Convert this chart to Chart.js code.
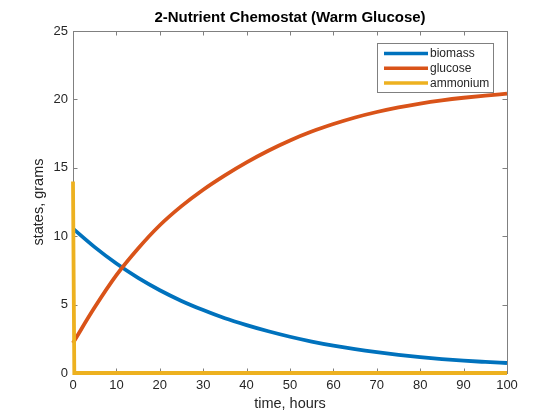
<!DOCTYPE html>
<html>
<head>
<meta charset="utf-8">
<script src="https://cdn.jsdelivr.net/npm/chart.js@4.4.1/dist/chart.umd.min.js"></script>
<style>
  html, body { margin: 0; padding: 0; background: #ffffff; }
  #wrap { width: 560px; height: 420px; position: relative; }
</style>
</head>
<body>
<div id="wrap"><canvas id="chart" width="560" height="420"></canvas></div>
<script>
const timeHours = [0, 5, 10, 15, 20, 25, 30, 35, 40, 45, 50, 55, 60, 65, 70, 75, 80, 85, 90, 95, 100];
const biomass = [10.55, 9.2, 8.0, 6.95, 6.05, 5.27, 4.6, 4.0, 3.5, 3.05, 2.65, 2.3, 2.0, 1.74, 1.52, 1.33, 1.16, 1.02, 0.9, 0.81, 0.73];
const glucose = [2.2, 4.8, 7.15, 9.1, 10.8, 12.2, 13.4, 14.45, 15.4, 16.25, 17.0, 17.65, 18.2, 18.68, 19.08, 19.42, 19.7, 19.93, 20.12, 20.28, 20.42];
const ammoniumTime = [0, 0.3, 100];
const ammonium = [14, 0, 0];

const xTicks = [0, 10, 20, 30, 40, 50, 60, 70, 80, 90, 100];
const yTicks = [0, 5, 10, 15, 20, 25];

const seriesNames = ["biomass", "glucose", "ammonium"];
const seriesColors = ["#0072BD", "#D95319", "#EDB120"];

const fontFamily = "'Liberation Sans', Arial, Helvetica, sans-serif";
const axisColor = "#808080";
const textColor = "#262626";

function toPoints(xs, ys) {
  return xs.map((x, i) => ({ x, y: ys[i] }));
}

// box around the axes with inward ticks on all four sides, like matlab
const boxPlugin = {
  id: "matlabBox",
  beforeDatasetsDraw(chart) {
    const { ctx, chartArea: a, scales } = chart;
    const len = 4.5;
    ctx.save();
    ctx.strokeStyle = axisColor;
    ctx.lineWidth = 1;
    ctx.strokeRect(a.left + 0.5, a.top + 0.5, a.right - a.left, a.bottom - a.top);
    ctx.beginPath();
    xTicks.forEach((v) => {
      const px = Math.round(scales.x.getPixelForValue(v)) + 0.5;
      ctx.moveTo(px, a.bottom);
      ctx.lineTo(px, a.bottom - len);
      ctx.moveTo(px, a.top);
      ctx.lineTo(px, a.top + len);
    });
    yTicks.forEach((v) => {
      const py = Math.round(scales.y.getPixelForValue(v)) + 0.5;
      ctx.moveTo(a.left, py);
      ctx.lineTo(a.left + len, py);
      ctx.moveTo(a.right, py);
      ctx.lineTo(a.right - len, py);
    });
    ctx.stroke();
    ctx.restore();
  },
  afterDraw(chart) {
    const { ctx } = chart;
    ctx.save();
    // title
    ctx.fillStyle = "#000000";
    ctx.font = `bold 15px ${fontFamily}`;
    ctx.textAlign = "center";
    ctx.textBaseline = "middle";
    ctx.fillText("2-Nutrient Chemostat (Warm Glucose)", (chart.chartArea.left + chart.chartArea.right) / 2, 17.5);

    // legend
    const lx = 377.5, ly = 43.5, lw = 116, lh = 49;
    ctx.fillStyle = "#ffffff";
    ctx.fillRect(lx, ly, lw, lh);
    ctx.strokeStyle = axisColor;
    ctx.lineWidth = 1;
    ctx.strokeRect(lx, ly, lw, lh);
    ctx.font = `12px ${fontFamily}`;
    ctx.textAlign = "left";
    seriesNames.forEach((name, i) => {
      const y = 53.5 + i * 14.7;
      ctx.strokeStyle = seriesColors[i];
      ctx.lineWidth = 3.5;
      ctx.beginPath();
      ctx.moveTo(384, y);
      ctx.lineTo(428, y);
      ctx.stroke();
      ctx.fillStyle = textColor;
      ctx.fillText(name, 430, y + 0.5);
    });
    ctx.restore();
  },
};

const lineDefaults = {
  borderWidth: 3.8,
  pointRadius: 0,
  fill: false,
  clip: 6,
};

new Chart(document.getElementById("chart"), {
  type: "line",
  data: {
    datasets: [
      {
        ...lineDefaults,
        label: seriesNames[0],
        data: toPoints(timeHours, biomass),
        borderColor: seriesColors[0],
        cubicInterpolationMode: "monotone",
        order: 3,
      },
      {
        ...lineDefaults,
        label: seriesNames[1],
        data: toPoints(timeHours, glucose),
        borderColor: seriesColors[1],
        cubicInterpolationMode: "monotone",
        order: 2,
      },
      {
        ...lineDefaults,
        label: seriesNames[2],
        data: toPoints(ammoniumTime, ammonium),
        borderColor: seriesColors[2],
        order: 1,
      },
    ],
  },
  options: {
    responsive: false,
    animation: false,
    devicePixelRatio: 1,
    layout: { padding: { left: 0, top: 31, right: 53, bottom: 0 } },
    plugins: {
      legend: { display: false },
      tooltip: { enabled: false },
    },
    scales: {
      x: {
        type: "linear",
        min: 0,
        max: 100,
        afterBuildTicks: (scale) => { scale.ticks = xTicks.map((v) => ({ value: v })); },
        afterFit: (scale) => { scale.height = 47; },
        grid: { display: false, drawTicks: false },
        border: { display: false },
        ticks: { color: textColor, padding: 5, font: { family: fontFamily, size: 13 } },
        title: {
          display: true,
          text: "time, hours",
          color: textColor,
          padding: { top: 0, bottom: 7 },
          font: { family: fontFamily, size: 14.5 },
        },
      },
      y: {
        type: "linear",
        min: 0,
        max: 25,
        afterBuildTicks: (scale) => { scale.ticks = yTicks.map((v) => ({ value: v })); },
        afterFit: (scale) => { scale.width = 73; },
        grid: { display: false, drawTicks: false },
        border: { display: false },
        ticks: { color: textColor, padding: 5, font: { family: fontFamily, size: 13 } },
        title: {
          display: true,
          text: "states, grams",
          color: textColor,
          padding: { top: 30, bottom: 0 },
          font: { family: fontFamily, size: 14.5 },
        },
      },
    },
  },
  plugins: [boxPlugin],
});
</script>
</body>
</html>
